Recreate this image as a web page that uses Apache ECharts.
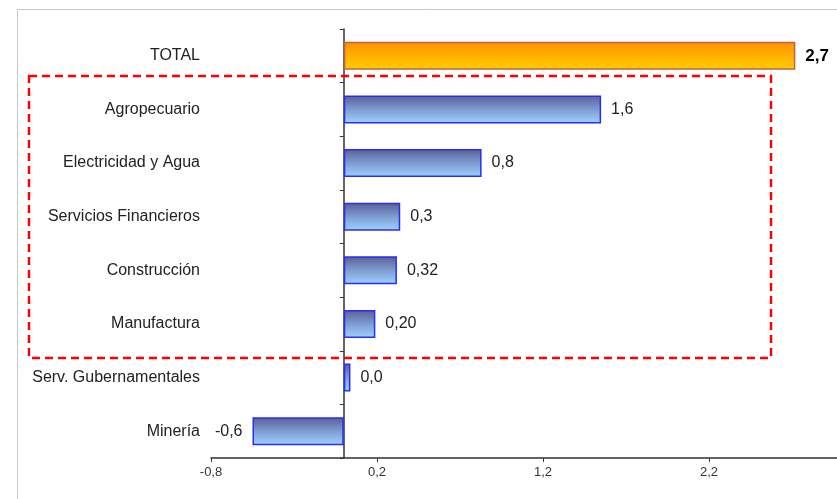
<!DOCTYPE html>
<html>
<head>
<meta charset="utf-8">
<script src="https://cdn.jsdelivr.net/npm/echarts@6/dist/echarts.min.js"></script>
<style>
html,body{margin:0;padding:0;background:#fff;}
#chart{width:837px;height:499px;}
</style>
</head>
<body>
<div id="chart"></div>
<script>
var categories = ["TOTAL","Agropecuario","Electricidad y Agua","Servicios Financieros","Construcción","Manufactura","Serv. Gubernamentales","Minería"];
var values = [2.72, 1.55, 0.83, 0.34, 0.32, 0.19, 0.04, -0.55];
var valueLabels = ["2,7","1,6","0,8","0,3","0,32","0,20","0,0","-0,6"];
var xTickLabels = {"-0.8":"-0,8","0.2":"0,2","1.2":"1,2","2.2":"2,2"};

var chart = echarts.init(document.getElementById('chart'), null, {renderer:'canvas'});

var blueGrad = {type:'linear',x:0,y:0,x2:0,y2:1,colorStops:[
  {offset:0,color:'#5a5e94'},{offset:0.5,color:'#7d9dd2'},{offset:1,color:'#9fd2ff'}]};
var orangeGrad = {type:'linear',x:0,y:0,x2:0,y2:1,colorStops:[
  {offset:0,color:'#ff9200'},{offset:1,color:'#ffcf00'}]};

var data = values.map(function(v,i){
  var item = {value:v};
  if(i===0){
    item.itemStyle = {color:orangeGrad,borderColor:'#c0604a',borderWidth:1.5};
    item.label = {fontSize:17,fontWeight:'bold',color:'#000'};
  }
  if(v<0){
    item.label = Object.assign(item.label||{}, {position:'left'});
  }
  return item;
});

chart.setOption({
  animation:false,
  backgroundColor:'#fff',
  grid:{left:211,right:0,top:29,bottom:41,containLabel:false,outerBoundsMode:'none'},
  xAxis:{
    type:'value',min:-0.8,max:2.971,interval:1,
    axisLine:{show:true,onZero:false,lineStyle:{color:'#333',width:1.5}},
    axisTick:{show:true,length:4,lineStyle:{color:'#333'}},
    splitLine:{show:false},
    axisLabel:{showMaxLabel:false,fontFamily:'Liberation Sans, Arial',fontSize:13,color:'#333',margin:8,
      formatter:function(v){var k=(Math.round(v*10)/10).toString();return xTickLabels[k]!==undefined?xTickLabels[k]:'';}}
  },
  yAxis:{
    type:'category',data:categories,inverse:true,
    axisLine:{show:true,onZero:true,lineStyle:{color:'#333',width:1.5}},
    axisTick:{show:true,length:4,lineStyle:{color:'#333'}},
    axisLabel:{margin:11,fontFamily:'Liberation Sans, Arial',fontSize:16,color:'#222'}
  },
  series:[{
    type:'bar',data:data,barWidth:28,
    itemStyle:{color:blueGrad,borderColor:'#2a2ef0',borderWidth:1.5},
    label:{show:true,position:'right',distance:10,fontFamily:'Liberation Sans, Arial',fontSize:16,color:'#222',
      formatter:function(p){return valueLabels[p.dataIndex];}}
  }],
  graphic:[
    {type:'rect',z:-10,silent:true,shape:{x:17.5,y:9.5,width:1000,height:1000},
     style:{fill:null,stroke:'#c8c8c8',lineWidth:1}},
    {type:'rect',z:100,silent:true,shape:{x:29,y:76,width:742,height:282},
     style:{fill:null,stroke:'#ff0000',lineWidth:2.5,lineDash:[8,5]}}
  ]
});
</script>
</body>
</html>
